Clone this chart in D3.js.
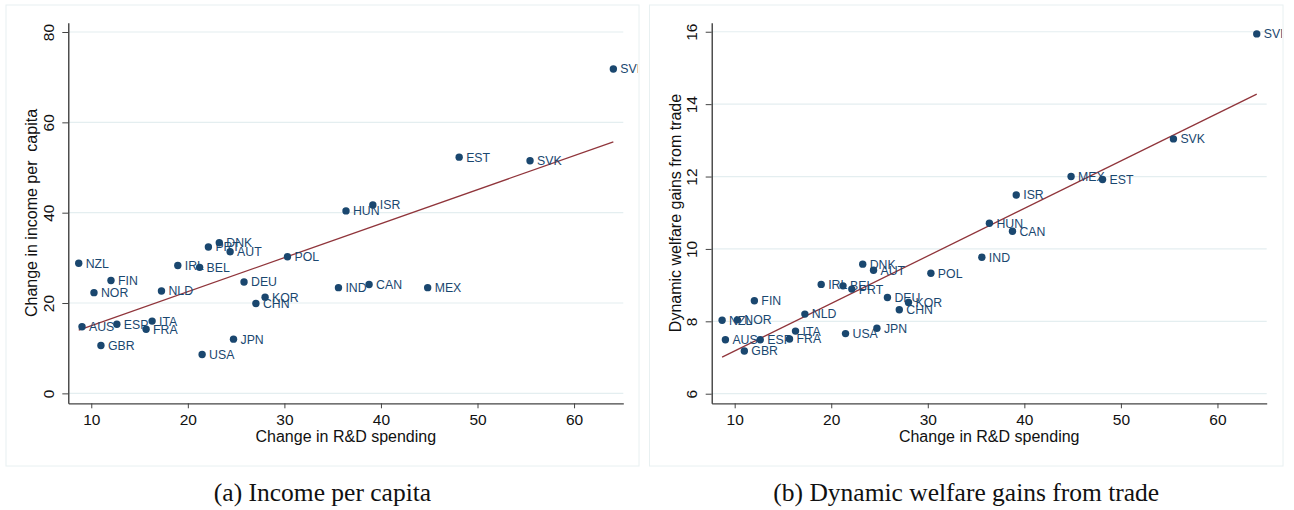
<!DOCTYPE html>
<html>
<head>
<meta charset="utf-8">
<script src="https://cdn.jsdelivr.net/npm/d3@7"></script>
<style>
  body { margin: 0; background: #fff; }
  svg text { font-family: "Liberation Sans", Arial, sans-serif; white-space: pre; }
  svg text.caption { font-family: "Liberation Serif", "Times New Roman", serif; }
</style>
</head>
<body>
<script>
// country codes and values
const countries = ["NZL","FIN","NOR","AUS","ESP","GBR","ITA","FRA","NLD","IRL","BEL","PRT","DNK","AUT",
                   "POL","DEU","KOR","CHN","JPN","USA","SVN","EST","SVK","HUN","ISR","IND","CAN","MEX"];
const rdSpending = [8.7, 12.04, 10.28, 9.04, 12.65, 11.0, 16.3, 15.68, 17.27, 18.96, 21.22, 22.13, 23.26, 24.38,
                    30.32, 25.82, 28.0, 27.05, 24.73, 21.48, 64.07, 48.1, 55.44, 36.38, 39.16, 35.6, 38.77, 44.84];
const incomeChange = [28.8, 25.0, 22.3, 14.75, 15.3, 10.6, 16.0, 14.2, 22.65, 28.3, 27.9, 32.4, 33.35, 31.35,
                      30.25, 24.65, 21.3, 19.9, 12.0, 8.6, 71.8, 52.3, 51.5, 40.4, 41.7, 23.4, 24.1, 23.4];
const welfareGains = [8.03, 8.57, 8.04, 7.49, 7.49, 7.18, 7.73, 7.51, 8.20, 9.02, 8.98, 8.89, 9.58, 9.41,
                      9.33, 8.66, 8.52, 8.32, 7.81, 7.66, 15.94, 11.92, 13.04, 10.71, 11.49, 9.77, 10.49, 12.0];

const xTicks = [10, 20, 30, 40, 50, 60];
const incomeTicks = [0, 20, 40, 60, 80];
const welfareTicks = [6, 8, 10, 12, 14, 16];

const navy = "#1a476f", maroon = "#90353b", grid = "#e4eef0", frame = "#e8f0f1";

var svg = d3.select("body").append("svg").attr("width", 1294).attr("height", 510);
svg.append("rect").attr("width", 1294).attr("height", 510).attr("fill", "#fff");

var panels = [
  { x0: 6, x1: 639, left: 68.3, yvals: incomeChange, ydom: [-2.2, 82.06], yticks: incomeTicks,
    ytitle: "Change in income per  capita", caption: "(a) Income per capita" },
  { x0: 649.5, x1: 1283, left: 711.7, yvals: welfareGains, ydom: [5.735, 16.25], yticks: welfareTicks,
    ytitle: "Dynamic welfare gains from trade", caption: "(b) Dynamic welfare gains from trade" }
];

var plotTop = 22.7, plotBottom = 403.3, plotW = 555;

function ols(xs, ys) {
  var mx = d3.mean(xs), my = d3.mean(ys);
  var sxy = d3.sum(xs, (v, i) => (v - mx) * (ys[i] - my));
  var sxx = d3.sum(xs, v => (v - mx) * (v - mx));
  var b = sxy / sxx;
  return { a: my - b * mx, b: b };
}

panels.forEach(function(p, k) {
  svg.append("rect").attr("x", p.x0).attr("y", 5).attr("width", p.x1 - p.x0).attr("height", 461)
     .attr("fill", "none").attr("stroke", frame).attr("stroke-width", 1);

  var clipId = "clip" + k;
  svg.append("clipPath").attr("id", clipId).append("rect")
     .attr("x", p.x0 - p.left).attr("y", 5 - plotTop).attr("width", p.x1 - p.x0 - 1).attr("height", 461);

  var g = svg.append("g").attr("transform", "translate(" + p.left + "," + plotTop + ")");
  var h = plotBottom - plotTop;
  var x = d3.scaleLinear().domain([7.62, 65.1]).range([0, plotW]);
  var y = d3.scaleLinear().domain(p.ydom).range([h, 0]);

  // gridlines
  g.selectAll(".grid").data(p.yticks).enter().append("line")
   .attr("x1", 0).attr("x2", plotW).attr("y1", d => y(d)).attr("y2", d => y(d))
   .attr("stroke", grid).attr("stroke-width", 1.2);

  // x axis
  var xa = g.append("g").attr("transform", "translate(0," + h + ")")
            .call(d3.axisBottom(x).tickValues(xTicks).tickSize(5).tickSizeOuter(0));
  xa.select(".domain").attr("stroke", "#444").attr("stroke-width", 1.2);
  xa.selectAll(".tick line").attr("stroke", "#444");
  xa.selectAll(".tick text").attr("y", 21.7).attr("dy", 0).attr("font-size", 15.5).attr("fill", "#111")
    .attr("font-family", "Liberation Sans");

  // y axis with rotated labels
  var ya = g.append("g").call(d3.axisLeft(y).tickValues(p.yticks).tickSize(6).tickSizeOuter(0));
  ya.select(".domain").attr("stroke", "#222").attr("stroke-width", 1.2);
  ya.selectAll(".tick line").attr("stroke", "#444");
  ya.selectAll(".tick text").attr("x", 0).attr("dy", 0).attr("text-anchor", "middle")
    .attr("transform", "translate(-14.3,0) rotate(-90)").attr("font-size", 15.5).attr("fill", "#111")
    .attr("font-family", "Liberation Sans");

  // axis titles
  g.append("text").attr("x", plotW / 2).attr("y", 442 - plotTop).attr("text-anchor", "middle")
   .attr("font-size", 16).attr("fill", "#111").text("Change in R&D spending");
  g.append("text").attr("transform", "translate(-31," + (h / 2) + ") rotate(-90)")
   .attr("text-anchor", "middle").attr("font-size", 16).attr("fill", "#111").text(p.ytitle);

  // fit line
  var fit = ols(rdSpending, p.yvals);
  var ext = d3.extent(rdSpending);
  g.append("line").attr("x1", x(ext[0])).attr("x2", x(ext[1]))
   .attr("y1", y(fit.a + fit.b * ext[0])).attr("y2", y(fit.a + fit.b * ext[1]))
   .attr("stroke", maroon).attr("stroke-width", 1.3);

  // points and labels
  var pts = g.append("g").attr("clip-path", "url(#" + clipId + ")");
  var data = countries.map((c, i) => ({ c: c, x: rdSpending[i], y: p.yvals[i] }));
  pts.selectAll("circle").data(data).enter().append("circle")
     .attr("cx", d => x(d.x)).attr("cy", d => y(d.y)).attr("r", 3.7).attr("fill", navy);
  pts.selectAll(".lab").data(data).enter().append("text")
     .attr("x", d => x(d.x) + 7).attr("y", d => y(d.y)).attr("dy", "0.36em")
     .attr("font-size", 12.3).attr("fill", navy).text(d => d.c);

  // caption
  svg.append("text").attr("class", "caption").attr("x", (p.x0 + p.x1) / 2).attr("y", 501)
     .attr("text-anchor", "middle").attr("font-size", 25.5).attr("fill", "#111").text(p.caption);
});
</script>
</body>
</html>
